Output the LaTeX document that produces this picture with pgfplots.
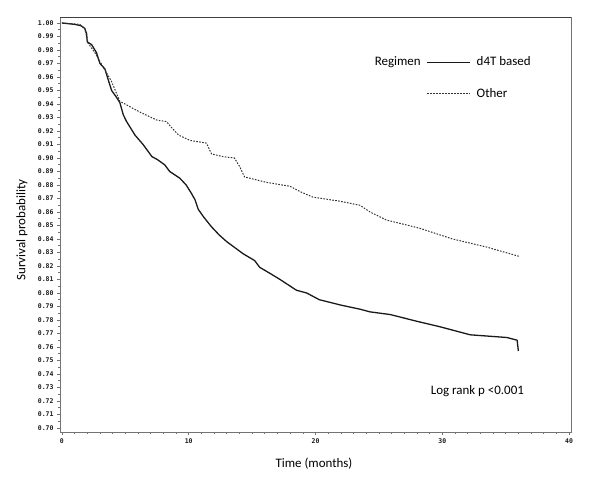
\documentclass[border=0pt]{standalone}
\usepackage{pgfplots}
\pgfplotsset{compat=1.18}
\usepackage{fontspec}
\setmainfont{Carlito}
\newfontfamily\tickfont{DejaVu Sans Mono}

% Kaplan-Meier estimates
\pgfplotstableread{
t S
0 1.000
1.0 0.999
1.5 0.998
1.8 0.996
1.95 0.992
2.0 0.986
2.34 0.984
2.73 0.978
3.0 0.970
3.39 0.966
3.65 0.958
3.92 0.950
4.3 0.945
4.57 0.941
4.84 0.932
5.1 0.927
5.76 0.917
6.4 0.910
7.1 0.901
7.5 0.899
8.1 0.895
8.5 0.890
9.3 0.885
9.8 0.880
10.2 0.874
10.5 0.869
10.75 0.862
11.2 0.856
11.8 0.849
12.4 0.843
13.0 0.838
14.3 0.829
15.2 0.824
15.6 0.819
16.5 0.814
17.2 0.810
18.5 0.802
19.3 0.800
20.3 0.795
22.0 0.791
23.5 0.788
24.3 0.786
25.9 0.784
28.0 0.779
29.8 0.775
32.2 0.769
35.1 0.767
35.9 0.765
36.0 0.757
}\dfourt

\pgfplotstableread{
t S
0 1.000
1.4 0.999
1.8 0.996
2.07 0.985
2.6 0.978
3.4 0.965
3.9 0.957
4.3 0.948
4.57 0.942
5.36 0.938
6.15 0.934
7.5 0.928
8.25 0.927
8.6 0.923
9.2 0.917
10.1 0.913
11.4 0.911
11.8 0.903
12.7 0.901
13.6 0.900
14.0 0.894
14.4 0.886
16.1 0.882
18.0 0.879
18.8 0.875
19.8 0.871
21.9 0.868
23.5 0.865
24.3 0.860
25.6 0.854
28.2 0.848
30.8 0.840
33.5 0.834
36.1 0.827
}\other

\begin{document}
\begin{tikzpicture}
\useasboundingbox (-60bp,-57bp) rectangle (540bp,432bp);
\begin{axis}[
    at={(0,0)}, anchor=south west,
    scale only axis,
    width=511bp, height=414bp,
    xmin=-0.15, xmax=40.15,
    ymin=0.697, ymax=1.0037,
    xtick={0,10,20,30,40},
    ytick={0.70,0.71,...,1.001},
    minor x tick num=9,
    minor y tick num=1,
    xtick pos=bottom, ytick pos=left,
    tick align=outside,
    major tick length=3bp, minor tick length=2bp,
    axis line style={black!55, line width=1pt},
    every tick/.style={black!55, line width=0.6pt},
    ticklabel style={font=\tickfont\bfseries\fontsize{6.5}{7}\selectfont, text=black!90},
    yticklabel style={/pgf/number format/.cd, fixed, fixed zerofill, precision=2},
    /pgf/number format/assume math mode=true,
    xlabel={Time (months)},
    ylabel={Survival probability},
    label style={font=\fontsize{13}{15}\selectfont},
    xlabel style={at={(axis description cs:0.497,-0.077)}, anchor=center},
    ylabel style={at={(axis description cs:-0.0744,0.488)}, anchor=center},
]
\addplot[black!90, line width=1.3pt] table[x=t, y=S] {\dfourt};
\addplot[black!80, line width=1pt, dash pattern=on 1.6pt off 1.4pt] table[x=t, y=S] {\other};

\draw[black!75, line width=1pt] (rel axis cs:0,1) -- (rel axis cs:1,1);
\node[anchor=mid east, inner sep=0, font=\fontsize{13}{15}\selectfont] at (axis cs:28.31,0.9701) {Regimen};
\draw[black!90, line width=1.3pt] (axis cs:28.76,0.9705) -- (axis cs:32.18,0.9705);
\node[anchor=mid west, inner sep=0, font=\fontsize{13}{15}\selectfont] at (axis cs:32.70,0.9701) {d4T based};
\draw[black!80, line width=1pt, dash pattern=on 1.6pt off 1.4pt] (axis cs:28.8,0.9474) -- (axis cs:32.18,0.9474);
\node[anchor=mid west, inner sep=0, font=\fontsize{13}{15}\selectfont] at (axis cs:32.70,0.9468) {Other};
\node[anchor=mid west, inner sep=0, font=\fontsize{13}{15}\selectfont] at (axis cs:29.08,0.7269) {Log rank p <0.001};
\end{axis}
\end{tikzpicture}
\end{document}
